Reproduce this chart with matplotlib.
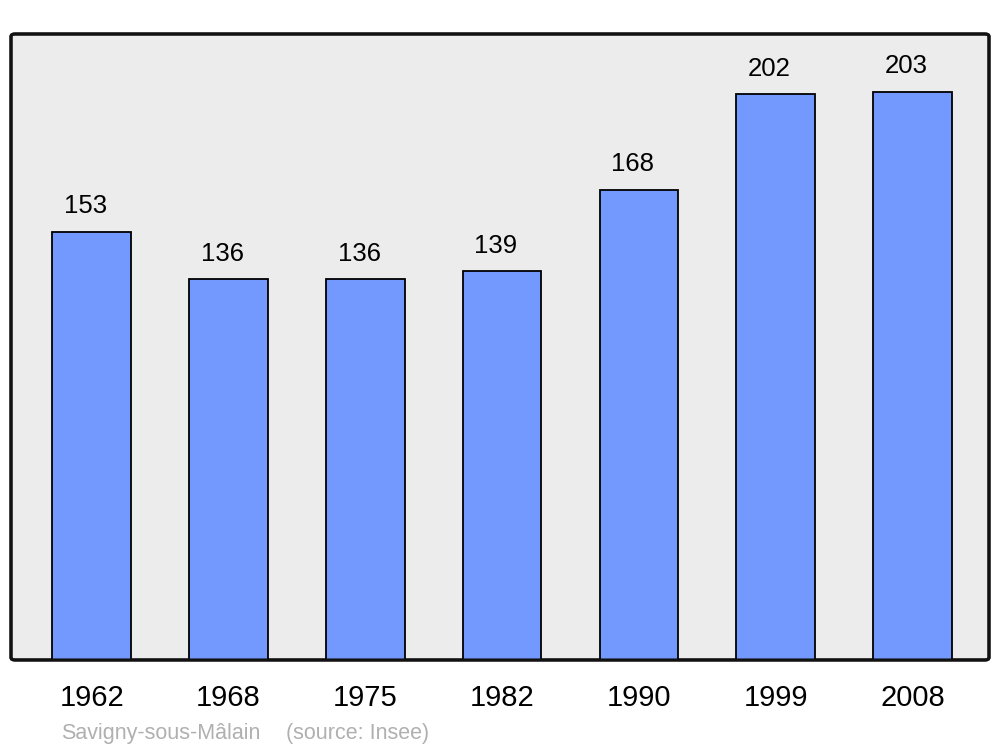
import matplotlib.pyplot as plt
from matplotlib.patches import FancyBboxPatch

years = ["1962", "1968", "1975", "1982", "1990", "1999", "2008"]
population = [153, 136, 136, 139, 168, 202, 203]
commune = "Savigny-sous-Mâlain"
source = "(source: Insee)"

plt.rcParams['font.family'] = ['Liberation Sans', 'DejaVu Sans']

fig = plt.figure(figsize=(10, 7.47), dpi=100)
ax = fig.add_axes([0.011, 0.1165, 0.978, 0.838])
ax.set_facecolor('none')

xs = list(range(len(years)))
ax.bar(xs, population, width=0.575, color='#7399ff', edgecolor='black', linewidth=1.3, zorder=2)
for x, v in zip(xs, population):
    ax.text(x - 0.045, v + 9.0, str(v), ha='center', va='center', fontsize=18.5, zorder=3)

ax.set_xlim(-0.59, 6.56)
ax.set_ylim(0, 223.6)
ax.set_yticks([])
ax.set_xticks(xs)
ax.set_xticklabels(years, fontsize=21)
ax.tick_params(axis='x', length=0, pad=17)
for s in ax.spines.values():
    s.set_visible(False)

# rounded frame
frame = FancyBboxPatch((0, 0), 1, 1, boxstyle="round,pad=0,rounding_size=0.004",
                       transform=ax.transAxes, facecolor='#ececec', edgecolor='#111111',
                       linewidth=2.2, zorder=0, clip_on=False)
ax.add_patch(frame)
frame2 = FancyBboxPatch((0, 0), 1, 1, boxstyle="round,pad=0,rounding_size=0.004",
                        transform=ax.transAxes, facecolor='none', edgecolor='#111111',
                        linewidth=2.2, zorder=4, clip_on=False)
ax.add_patch(frame2)

fig.text(0.061, 1 - 733 / 747, commune, fontsize=15.5, color='#b0b0b0',
         ha='left', va='center')
fig.text(0.286, 1 - 733 / 747, source, fontsize=15.5, color='#b0b0b0',
         ha='left', va='center')

fig.savefig("out.png", dpi=100)
